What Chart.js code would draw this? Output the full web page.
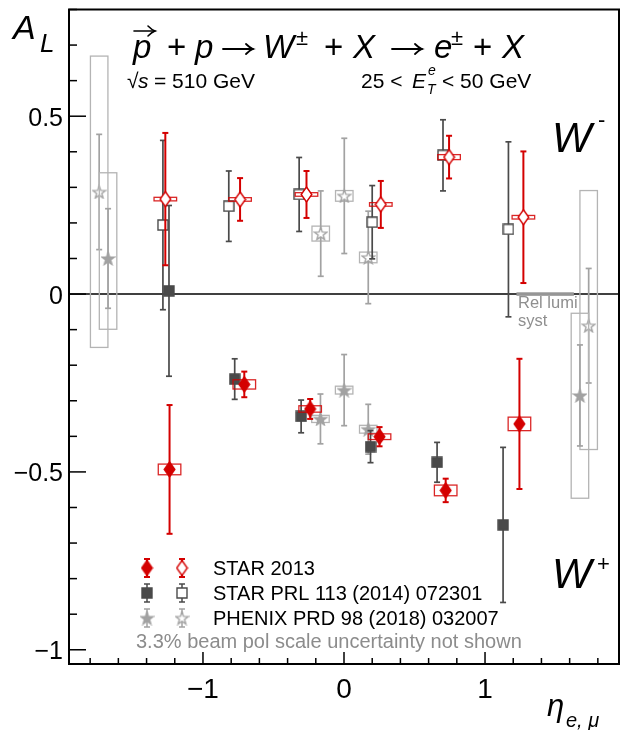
<!DOCTYPE html>
<html><head><meta charset="utf-8">
<script src="https://cdn.jsdelivr.net/npm/chart.js@4.4.1/dist/chart.umd.min.js"></script>
<style>html,body{margin:0;padding:0;background:#fff;}canvas{display:block;}</style>
</head><body>
<canvas id="c" width="626" height="730"></canvas>
<script>
// ---------------- data ----------------
// STAR 2013 (this result)
const etaWm13  = [-1.267, -0.737, -0.266, 0.261, 0.745, 1.272];
const alWm13   = [0.267, 0.266, 0.280, 0.252, 0.385, 0.216];
const statWm13 = [0.186, 0.060, 0.066, 0.066, 0.060, 0.185];
const sysWm13  = [0.005, 0.005, 0.005, 0.005, 0.007, 0.005];
const etaWp13  = [-1.237, -0.707, -0.240, 0.252, 0.721, 1.244];
const alWp13   = [-0.493, -0.254, -0.323, -0.401, -0.552, -0.365];
const statWp13 = [0.181, 0.036, 0.028, 0.027, 0.033, 0.183];
const sysWp13  = [0.015, 0.013, 0.009, 0.008, 0.015, 0.019];
const binHalf13 = 0.08;
// STAR PRL 113 (2014) 072301
const etaWm14  = [-1.284, -0.817, -0.318, 0.200, 0.702, 1.166];
const alWm14   = [0.194, 0.247, 0.280, 0.202, 0.390, 0.182];
const statWm14 = [0.238, 0.099, 0.104, 0.103, 0.100, 0.246];
const etaWp14  = [-1.241, -0.775, -0.304, 0.188, 0.660, 1.128];
const alWp14   = [0.009, -0.239, -0.344, -0.429, -0.473, -0.649];
const statWp14 = [0.240, 0.057, 0.046, 0.045, 0.056, 0.218];
// PHENIX PRD 98 (2018) 032007
const etaWmPH   = [-1.736, -0.165, 0.002, 0.172, 1.735];
const alWmPH    = [0.287, 0.170, 0.276, 0.103, -0.089];
const statWmPH  = [0.162, 0.120, 0.162, 0.130, 0.161];
const sysLoWmPH = [0.437, 0.021, 0.015, 0.015, 0.348];
const sysHiWmPH = [0.382, 0.021, 0.015, 0.015, 0.380];
const etaWpPH   = [-1.673, -0.167, 0.001, 0.172, 1.673];
const alWpPH    = [0.100, -0.351, -0.270, -0.380, -0.285];
const statWpPH  = [0.140, 0.070, 0.100, 0.070, 0.142];
const sysLoWpPH = [0.199, 0.010, 0.011, 0.011, 0.289];
const sysHiWpPH = [0.241, 0.010, 0.011, 0.011, 0.231];
const binHalfPH = 0.062;
// relative luminosity systematic band
const relLumiEta = [1.223, 1.630];
const relLumiHalf = 0.005;
// axes
const xRange = [-1.95, 1.95];
const yRange = [-1.04, 0.8];
const xMajorTicks = [-1, 0, 1];
const xTickLabels = ['\u22121', '0', '1'];
const yMajorTicks = [-1, -0.5, 0, 0.5];
const yTickLabels = ['\u22121', '\u22120.5', '0', '0.5'];
const legendLabels = ['STAR 2013', 'STAR PRL 113 (2014) 072301', 'PHENIX PRD 98 (2018) 032007'];
const footNote = '3.3% beam pol scale uncertainty not shown';

// ---------------- styles ----------------
const RED = '#d40000', DARK = '#4a4a4a', LIGHT = '#a2a2a2';
const FONT = "'Liberation Sans', Arial, sans-serif";

function mk(kind, filled, color) {
  const c = document.createElement('canvas');
  let w = 12, h = 12;
  if (kind === 'diamond') { w = 13; h = 17; }
  if (kind === 'star') { w = 15; h = 15; }
  c.width = w; c.height = h;
  const g = c.getContext('2d');
  g.lineWidth = 1.4; g.strokeStyle = color; g.fillStyle = filled ? color : '#ffffff';
  g.beginPath();
  if (kind === 'diamond') {
    g.moveTo(w/2, 1); g.lineTo(w-1.2, h/2); g.lineTo(w/2, h-1); g.lineTo(1.2, h/2); g.closePath();
  } else if (kind === 'square') {
    g.rect(1, 1, w-2, h-2);
  } else {
    const cx = w/2, cy = h/2 + 0.6, R = 6.6, r = 2.7;
    for (let k = 0; k < 10; k++) {
      const a = -Math.PI/2 + k*Math.PI/5, rad = (k % 2) ? r : R;
      const px = cx + rad*Math.cos(a), py = cy + rad*Math.sin(a);
      k ? g.lineTo(px, py) : g.moveTo(px, py);
    }
    g.closePath();
  }
  g.fill(); g.stroke();
  return c;
}
const M = {
  dFill: mk('diamond', true, RED), dOpen: mk('diamond', false, RED),
  sFill: mk('square', true, DARK), sOpen: mk('square', false, DARK),
  tFill: mk('star', true, LIGHT), tOpen: mk('star', false, LIGHT)
};

const pts = (eta, al) => eta.map((x, i) => ({ x: x, y: al[i] }));

const datasets = [
  { label: 'STAR 2013 W+', data: pts(etaWp13, alWp13), stat: statWp13, sysLo: sysWp13, sysHi: sysWp13,
    boxHalf: binHalf13, col: RED, boxCol: 'rgba(212,0,0,0.85)', barW: 2, pointStyle: M.dFill },
  { label: 'STAR 2013 W-', data: pts(etaWm13, alWm13), stat: statWm13, sysLo: sysWm13, sysHi: sysWm13,
    boxHalf: binHalf13, col: RED, boxCol: 'rgba(212,0,0,0.85)', barW: 2, pointStyle: M.dOpen },
  { label: 'STAR 2014 W+', data: pts(etaWp14, alWp14), stat: statWp14, col: DARK, barW: 1.7, pointStyle: M.sFill },
  { label: 'STAR 2014 W-', data: pts(etaWm14, alWm14), stat: statWm14, col: DARK, barW: 1.7, pointStyle: M.sOpen },
  { label: 'PHENIX W+', data: pts(etaWpPH, alWpPH), stat: statWpPH, sysLo: sysLoWpPH, sysHi: sysHiWpPH,
    boxHalf: binHalfPH, col: LIGHT, boxCol: '#b4b4b4', barW: 1.7, pointStyle: M.tFill },
  { label: 'PHENIX W-', data: pts(etaWmPH, alWmPH), stat: statWmPH, sysLo: sysLoWmPH, sysHi: sysHiWmPH,
    boxHalf: binHalfPH, col: LIGHT, boxCol: '#b4b4b4', barW: 1.7, pointStyle: M.tOpen }
];
datasets.forEach(d => { d.showLine = false; d.pointRadius = 6; d.pointHoverRadius = 6; d.borderColor = d.col; d.backgroundColor = d.col; });

function seg(ctx, x1, y1, x2, y2) { ctx.beginPath(); ctx.moveTo(x1, y1); ctx.lineTo(x2, y2); ctx.stroke(); }
function txt(ctx, s, x, y, size, opt) {
  opt = opt || {};
  ctx.font = (opt.italic ? 'italic ' : '') + size + 'px ' + FONT;
  ctx.fillStyle = opt.color || '#000';
  ctx.textAlign = opt.align || 'left';
  ctx.textBaseline = 'alphabetic';
  ctx.fillText(s, x, y);
}
function arrow(ctx, x1, x2, y, lw) {
  ctx.save(); ctx.strokeStyle = '#000'; ctx.lineWidth = lw; ctx.lineCap = 'round';
  seg(ctx, x1, y, x2, y);
  ctx.beginPath(); ctx.moveTo(x2 - 7, y - 5); ctx.quadraticCurveTo(x2 - 3, y - 1, x2, y);
  ctx.quadraticCurveTo(x2 - 3, y + 1, x2 - 7, y + 5); ctx.stroke();
  ctx.restore();
}
function errBar(ctx, x, yTop, yBot, col, lw) {
  ctx.strokeStyle = col; ctx.lineWidth = lw;
  seg(ctx, x, yTop, x, yBot);
  seg(ctx, x - 3, yTop, x + 3, yTop);
  seg(ctx, x - 3, yBot, x + 3, yBot);
}

const plugin = {
  id: 'rootStyle',
  beforeDatasetsDraw(chart) {
    const ctx = chart.ctx, a = chart.chartArea;
    const X = v => chart.scales.x.getPixelForValue(v), Y = v => chart.scales.y.getPixelForValue(v);
    ctx.save();
    ctx.strokeStyle = '#000'; ctx.lineWidth = 1.4;
    seg(ctx, a.left, Y(0), a.right, Y(0));
    ctx.fillStyle = '#969696';
    ctx.fillRect(X(relLumiEta[0]), Y(relLumiHalf), X(relLumiEta[1]) - X(relLumiEta[0]), Y(-relLumiHalf) - Y(relLumiHalf));
    ctx.restore();
  },
  beforeDatasetDraw(chart, args) {
    const ds = chart.data.datasets[args.index];
    const ctx = chart.ctx;
    const X = v => chart.scales.x.getPixelForValue(v), Y = v => chart.scales.y.getPixelForValue(v);
    ctx.save();
    ds.data.forEach((p, i) => {
      if (ds.sysLo) {
        ctx.strokeStyle = ds.boxCol; ctx.lineWidth = 1.3;
        const x0 = X(p.x - ds.boxHalf), x1 = X(p.x + ds.boxHalf);
        const y0 = Y(p.y + ds.sysHi[i]), y1 = Y(p.y - ds.sysLo[i]);
        ctx.strokeRect(x0, y0, x1 - x0, Math.max(y1 - y0, 2));
      }
    });
    ds.data.forEach((p, i) => {
      errBar(ctx, X(p.x), Y(p.y + ds.stat[i]), Y(p.y - ds.stat[i]), ds.col, ds.barW);
    });
    ctx.restore();
  },
  afterDraw(chart) {
    const ctx = chart.ctx, a = chart.chartArea;
    const X = v => chart.scales.x.getPixelForValue(v), Y = v => chart.scales.y.getPixelForValue(v);
    ctx.save();
    // frame
    ctx.strokeStyle = '#000'; ctx.lineWidth = 2;
    ctx.strokeRect(a.left, a.top, a.right - a.left, a.bottom - a.top);
    // y ticks
    ctx.lineWidth = 1.5;
    for (let k = -10; k <= 8; k++) {
      const v = k / 10, y = Y(v);
      const major = (k % 5 === 0);
      seg(ctx, a.left, y, a.left + (major ? 17 : 8), y);
    }
    // x ticks
    for (let k = -9; k <= 9; k++) {
      const v = k / 5, x = X(v);
      const major = (k % 5 === 0);
      seg(ctx, x, a.bottom, x, a.bottom - (major ? 12 : 6));
    }
    yMajorTicks.forEach((v, i) => txt(ctx, yTickLabels[i], 63, Y(v) + 9.5, 25, { align: 'right' }));
    xMajorTicks.forEach((v, i) => txt(ctx, xTickLabels[i], X(v), 698, 28, { align: 'center' }));
    // axis titles
    txt(ctx, 'A', 13, 39, 34, { italic: true });
    txt(ctx, 'L', 40, 52, 26, { italic: true });
    txt(ctx, '\u03B7', 547, 716, 31, { italic: true });
    txt(ctx, 'e, \u03BC', 566, 727, 20, { italic: true });
    // title
    const tb = 58, ts = 33;
    txt(ctx, 'p', 133, tb, ts, { italic: true });
    arrow(ctx, 134, 155, 31, 1.6);
    txt(ctx, '+', 167, tb, ts);
    txt(ctx, 'p', 195, tb, ts, { italic: true });
    arrow(ctx, 223, 253, 49, 1.8);
    txt(ctx, 'W', 263, tb, ts, { italic: true });
    txt(ctx, '\u00B1', 296, 45, 22);
    txt(ctx, '+', 324, tb, ts);
    txt(ctx, 'X', 353, tb, ts, { italic: true });
    arrow(ctx, 392, 422, 49, 1.8);
    txt(ctx, 'e', 434, tb, ts, { italic: true });
    txt(ctx, '\u00B1', 451, 45, 22);
    txt(ctx, '+', 473, tb, ts);
    txt(ctx, 'X', 502, tb, ts, { italic: true });
    // subtitles
    txt(ctx, '\u221A', 127, 88, 21);
    txt(ctx, 's', 138, 88, 21, { italic: true });
    txt(ctx, '= 510 GeV', 154, 88, 21);
    txt(ctx, '25 <', 361, 88, 21);
    txt(ctx, 'E', 412, 88, 21, { italic: true });
    txt(ctx, 'e', 428, 75, 14, { italic: true });
    txt(ctx, 'T', 427, 94, 14, { italic: true });
    txt(ctx, '< 50 GeV', 442, 88, 21);
    // W labels
    txt(ctx, 'W', 552, 152, 42, { italic: true });
    txt(ctx, '-', 598, 127, 22);
    txt(ctx, 'W', 552, 588, 42, { italic: true });
    txt(ctx, '+', 597, 571, 22);
    // rel lumi
    txt(ctx, 'Rel lumi', 518, 308, 16.5, { color: '#8f8f8f' });
    txt(ctx, 'syst', 518, 326, 16.5, { color: '#8f8f8f' });
    // legend
    const rows = [[M.dFill, M.dOpen, RED, 2], [M.sFill, M.sOpen, DARK, 1.5], [M.tFill, M.tOpen, LIGHT, 1.5]];
    rows.forEach((r, i) => {
      const y = 568 + 25 * i;
      [147, 182].forEach((x, j) => {
        ctx.save();
        errBar(ctx, x, y - 9, y + 9, r[2], r[3]);
        ctx.restore();
        const im = r[j];
        ctx.drawImage(im, x - im.width / 2, y - im.height / 2);
      });
      txt(ctx, legendLabels[i], 213, y + 7, 20);
    });
    txt(ctx, footNote, 136, 648, 20, { color: '#8c8c8c' });
    ctx.restore();
  }
};

new Chart(document.getElementById('c'), {
  type: 'scatter',
  data: { datasets: datasets },
  options: {
    responsive: false, animation: false, devicePixelRatio: 1,
    layout: { padding: { left: 69, right: 4, top: 9.5, bottom: 66 } },
    plugins: { legend: { display: false }, tooltip: { enabled: false } },
    events: [],
    scales: {
      x: { type: 'linear', min: xRange[0], max: xRange[1], display: false },
      y: { type: 'linear', min: yRange[0], max: yRange[1], display: false }
    }
  },
  plugins: [plugin]
});
</script>
</body></html>
